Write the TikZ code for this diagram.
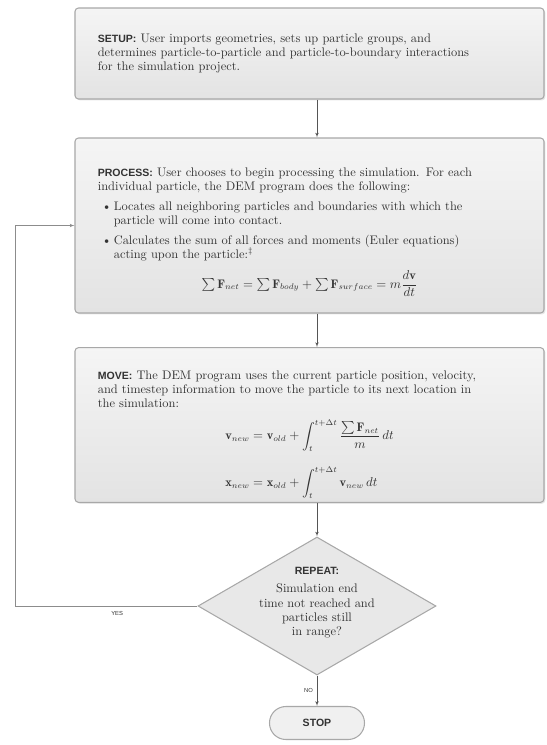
\documentclass[tikz,border=0pt]{standalone}
\usepackage{fontspec}
\setsansfont{Liberation Sans}
\usetikzlibrary{shapes.geometric}
\usetikzlibrary{arrows}
\usepackage{amsmath}
\usepackage{bm}
\usetikzlibrary{calc,shadows}
\usepackage{xcolor}
\definecolor{boxgray}{HTML}{E8E8E8}
\definecolor{boxline}{HTML}{A8A8A8}
\definecolor{textgray}{HTML}{333333}
\definecolor{linegray}{HTML}{555555}
\setlength{\parindent}{0pt}
\newcommand{\stephead}[1]{{\sffamily\bfseries\small #1}}
\newcommand{\eqline}[1]{\makebox[12.7cm]{$#1$}}
\newcommand{\bulletline}{\makebox[0.48cm][l]{\hspace{0.12cm}\textbullet}}

\begin{document}
\begin{tikzpicture}[>=latex', x=0.03cm, y=-0.03cm,
    every node/.style={text=textgray, font=\fontsize{10.6}{12}\selectfont},
    stepbox/.style={draw=boxline, line width=0.9pt, rounded corners=3pt,
      top color=black!4, bottom color=black!11,
      drop shadow={opacity=0.2, shadow xshift=1.2pt, shadow yshift=-1.2pt},
      minimum width=14.07cm, text width=12.7cm, align=left},
    flow/.style={->, thin, draw=linegray}]
      \coordinate (newcenter) at (0, 0);
      \useasboundingbox (newcenter) rectangle ++(546, 745);

      \node [stepbox, minimum height=2.73cm, name=setup] at
      ($(newcenter) + (309.5, 53.5)$) {\stephead{SETUP:} User imports geometries, sets up particle groups, and\\
        determines particle-to-particle and particle-to-boundary interactions\\
        for the simulation project.};

      \node [stepbox, minimum height=5.25cm, name=process] at
      ($(newcenter) + (309.5, 225.5)$) {\rule{0pt}{19pt}\stephead{PROCESS:} User chooses to begin processing the simulation. For each\\
        individual particle, the DEM program does the following:\\[5pt]
        \bulletline Locates all neighboring particles and boundaries with which the\\
        \hspace*{0.48cm}particle will come into contact.\\[5pt]
        \bulletline Calculates the sum of all forces and moments (Euler equations)\\
        \hspace*{0.48cm}acting upon the particle:$^{\ddagger}$\\[7pt]
        \eqline{\sum \mathbf{F}_{net} = \sum \mathbf{F}_{body} + \sum \mathbf{F}_{surface} = m\dfrac{d\mathbf{v}}{dt}}};

      \node [stepbox, minimum height=4.5cm, name=move] at
      ($(newcenter) + (309.5, 425)$) {\rule{0pt}{24pt}\stephead{MOVE:} The DEM program uses the current particle position, velocity,\\
        and timestep information to move the particle to its next location in\\
        the simulation:\\[9pt]
        \eqline{\begin{aligned}
          \mathbf{v}_{new} &= \mathbf{v}_{old} + \int_t^{t+\Delta t}\frac{\sum\mathbf{F}_{net}}{m}\,dt\\[9pt]
          \mathbf{x}_{new} &= \mathbf{x}_{old} + \int_t^{t+\Delta t}\mathbf{v}_{new}\,dt
        \end{aligned}}};

      \node [draw=boxline, line width=0.9pt, diamond, fill=boxgray, inner sep=0pt,
      minimum width=7.14cm, minimum height=4.14cm, name=repeat] at
      ($(newcenter) + (317, 606)$) {};
      \node [align=center, name=repeattext] at ($(repeat.center) + (0, -3)$)
      {\stephead{REPEAT:}\\[3pt] Simulation end\\[1pt] time not reached and\\ particles still\\ in range?};

      \node [draw=boxline, line width=0.9pt, rounded corners=14pt, fill=black!6,
      minimum width=2.85cm, minimum height=0.99cm, name=stop] at
      ($(newcenter) + (317, 723)$) {\stephead{STOP}};

      \coordinate (loop) at ($(newcenter) + (15, 225.5)$);

      \draw [flow] (setup.south -| repeat) -- (process.north -| repeat);
      \draw [flow] (process.south -| repeat) -- (move.north -| repeat);
      \draw [flow] (move.south -| repeat) -- (repeat.north);
      \draw [flow] (repeat.south) -- node [left, font=\sffamily\tiny] {NO} (stop.north);
      \draw [flow, draw=black!45] (repeat.west) -| node [pos=0.22, below=1pt, font=\sffamily\tiny] {YES}
      (loop) -- (process.west);
    \end{tikzpicture}
\end{document}
